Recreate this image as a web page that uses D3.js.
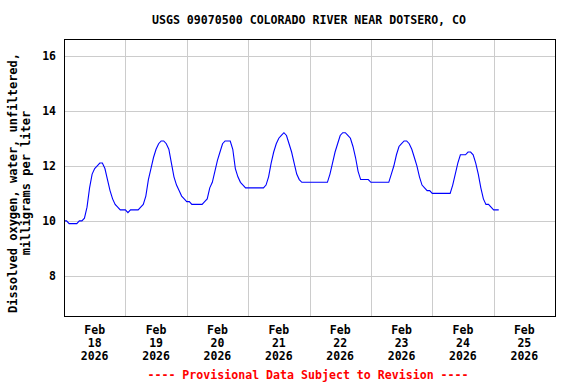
<!DOCTYPE html>
<html>
<head>
<meta charset="utf-8">
<script src="https://cdn.jsdelivr.net/npm/d3@7"></script>
<style>
  body { margin: 0; background: #fff; }
  text { font-family: "DejaVu Sans Mono", "Liberation Mono", monospace; font-weight: bold; }
</style>
</head>
<body>
<svg id="chart" width="576" height="384"></svg>
<script>
// Chart data: hourly dissolved oxygen (mg/L), starting Feb 18 2026 00:00
const startDate = new Date(2026, 1, 18, 0, 0);
const doValues = [
  10.0, 10.0, 9.9, 9.9, 9.9, 9.9, 10.0, 10.0, 10.1, 10.5, 11.2, 11.7,
  11.9, 12.0, 12.1, 12.1, 11.9, 11.5, 11.1, 10.8, 10.6, 10.5, 10.4, 10.4,
  10.4, 10.3, 10.4, 10.4, 10.4, 10.4, 10.5, 10.6, 10.9, 11.5, 11.9, 12.3,
  12.6, 12.8, 12.9, 12.9, 12.8, 12.6, 12.1, 11.6, 11.3, 11.1, 10.9, 10.8,
  10.7, 10.7, 10.6, 10.6, 10.6, 10.6, 10.6, 10.7, 10.8, 11.2, 11.4, 11.8,
  12.2, 12.5, 12.8, 12.9, 12.9, 12.9, 12.6, 11.9, 11.6, 11.4, 11.3, 11.2,
  11.2, 11.2, 11.2, 11.2, 11.2, 11.2, 11.2, 11.3, 11.6, 12.1, 12.5, 12.8,
  13.0, 13.1, 13.2, 13.1, 12.8, 12.5, 12.1, 11.7, 11.5, 11.4, 11.4, 11.4,
  11.4, 11.4, 11.4, 11.4, 11.4, 11.4, 11.4, 11.4, 11.7, 12.1, 12.5, 12.8,
  13.1, 13.2, 13.2, 13.1, 13.0, 12.7, 12.3, 11.8, 11.5, 11.5, 11.5, 11.5,
  11.4, 11.4, 11.4, 11.4, 11.4, 11.4, 11.4, 11.4, 11.7, 12.0, 12.4, 12.7,
  12.8, 12.9, 12.9, 12.8, 12.6, 12.3, 12.0, 11.6, 11.3, 11.2, 11.1, 11.1,
  11.0, 11.0, 11.0, 11.0, 11.0, 11.0, 11.0, 11.0, 11.3, 11.7, 12.1, 12.4,
  12.4, 12.4, 12.5, 12.5, 12.4, 12.1, 11.7, 11.2, 10.8, 10.6, 10.6, 10.5,
  10.4, 10.4, 10.4
];
const yTicks = [8, 10, 12, 14, 16];
const dayLabels = ["18", "19", "20", "21", "22", "23", "24", "25"];
const titleText = "USGS 09070500 COLORADO RIVER NEAR DOTSERO, CO";
const yLabelLines = ["Dissolved oxygen, water, unfiltered,", "milligrams per liter"];
const footerText = "---- Provisional Data Subject to Revision ----";

const svg = d3.select("#chart");
const plot = {left: 64, right: 555, top: 39, bottom: 316};

const x = d3.scaleTime()
  .domain([startDate, d3.timeDay.offset(startDate, 8)])
  .range([plot.left, plot.right]);
const y = d3.scaleLinear()
  .domain([6.55, 16.6])
  .range([plot.bottom, plot.top]);

const data = doValues.map((v, i) => ({t: d3.timeHour.offset(startDate, i), v: v}));

// grid lines
const grid = svg.append("g").attr("stroke", "#cccccc").attr("stroke-width", 1);
grid.selectAll("line.h")
  .data(yTicks)
  .join("line")
  .attr("x1", plot.left).attr("x2", plot.right)
  .attr("y1", d => Math.round(y(d)) + 0.5).attr("y2", d => Math.round(y(d)) + 0.5);
const midnights = d3.timeDay.range(d3.timeDay.offset(startDate, 1), d3.timeDay.offset(startDate, 8));
grid.selectAll("line.v")
  .data(midnights)
  .join("line")
  .attr("x1", d => Math.round(x(d)) + 0.5).attr("x2", d => Math.round(x(d)) + 0.5)
  .attr("y1", plot.top).attr("y2", plot.bottom);

// data line
const line = d3.line()
  .x(d => x(d.t))
  .y(d => y(d.v));
svg.append("path")
  .datum(data)
  .attr("d", line)
  .attr("fill", "none")
  .attr("stroke", "#0000ff")
  .attr("stroke-width", 1.1);

// frame
svg.append("rect")
  .attr("x", plot.left + 0.5).attr("y", plot.top + 0.5)
  .attr("width", plot.right - plot.left).attr("height", plot.bottom - plot.top)
  .attr("fill", "none").attr("stroke", "#000").attr("stroke-width", 1);

// y tick labels
svg.append("g").selectAll("text")
  .data(yTicks)
  .join("text")
  .attr("x", 56)
  .attr("y", d => y(d))
  .attr("dy", "0.35em")
  .attr("text-anchor", "end")
  .attr("font-size", "11.5px")
  .text(d => d);

// x tick labels at noon of each day
const xl = svg.append("g").selectAll("text")
  .data(dayLabels)
  .join("text")
  .attr("text-anchor", "middle")
  .attr("font-size", "11.5px")
  .attr("transform", (d, i) => `translate(${x(d3.timeHour.offset(startDate, i * 24 + 12))},0)`);
xl.append("tspan").attr("x", 0).attr("y", 334).text("Feb");
xl.append("tspan").attr("x", 0).attr("y", 347).text(d => d);
xl.append("tspan").attr("x", 0).attr("y", 360).text("2026");

// title
svg.append("text")
  .attr("x", 309).attr("y", 24)
  .attr("text-anchor", "middle")
  .attr("font-size", "11.6px")
  .text(titleText);

// y axis title
const yt = svg.append("text")
  .attr("transform", "translate(0,183) rotate(-90)")
  .attr("text-anchor", "middle")
  .attr("font-size", "12px");
yt.selectAll("tspan")
  .data(yLabelLines)
  .join("tspan")
  .attr("x", 0)
  .attr("y", (d, i) => 17 + i * 13)
  .text(d => d);

// footer
svg.append("text")
  .attr("x", 308).attr("y", 379)
  .attr("text-anchor", "middle")
  .attr("font-size", "11.6px")
  .attr("fill", "#ff0000")
  .text(footerText);
</script>
</body>
</html>
